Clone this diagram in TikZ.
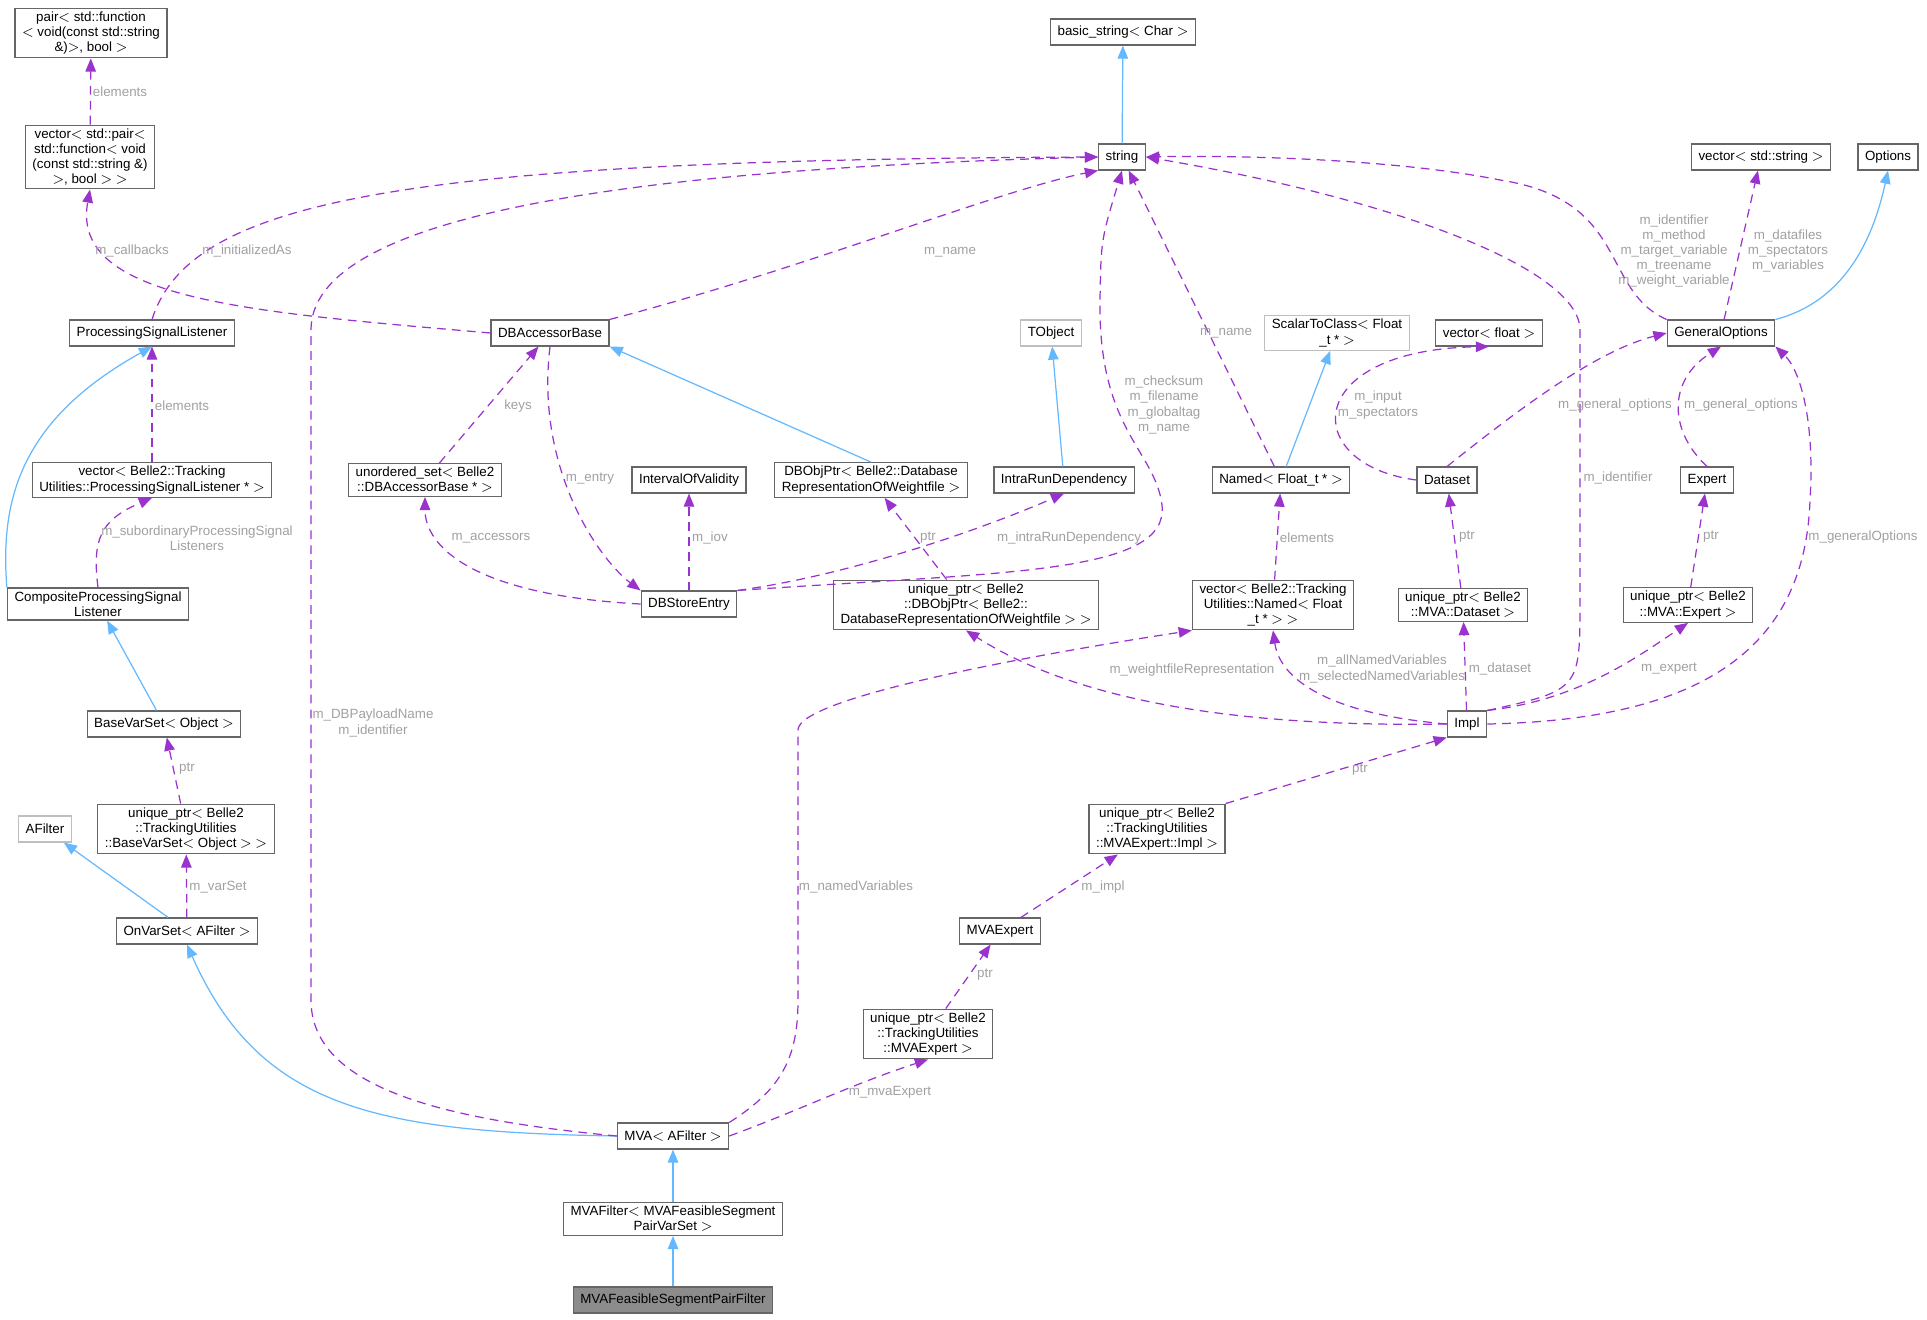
\documentclass[tikz,border=0pt]{standalone}
\usepackage{fontspec}
\setmainfont{Liberation Sans}
\usetikzlibrary{arrows.meta, positioning, calc, shapes}
\definecolor{inhblue}{HTML}{63B8FF}
\definecolor{usepurple}{HTML}{9A32CD}
\definecolor{lblgray}{HTML}{A0A0A0}
\tikzset{
  cls/.style={draw=black!60, fill=white, line width=0.7pt, align=center, inner xsep=4pt, inner ysep=2pt, minimum height=14.7pt},
  extcls/.style={cls, draw=black!25},
  inh/.style={draw=inhblue, line width=0.7pt, -{Triangle[length=7.5pt,width=6pt]}},
  usr/.style={draw=usepurple, line width=0.7pt, dash pattern=on 5pt off 3.5pt, -{Triangle[length=7.5pt,width=6pt]}},
  lbl/.style={text=lblgray, align=center, inner sep=1pt}
}
\begin{document}
\begin{tikzpicture}[x=0.02cm, y=-0.02cm, font=\fontsize{7.6}{8.6}\selectfont]
        \useasboundingbox (0,0) rectangle (1927,1319);
        % classes
        \node[cls] (pair) at (91,33) {pair$<$ std::function\\$<$ void(const std::string\\\&)$>$, bool $>$};
        \node[cls] (vecpair) at (90,157) {vector$<$ std::pair$<$\\std::function$<$ void\\(const std::string \&)\\$>$, bool $>$ $>$};
        \node[cls] (bstr) at (1123,32) {basic\_string$<$ Char $>$};
        \node[cls] (str) at (1122,157) {string};
        \node[cls] (vecstr) at (1761,157) {vector$<$ std::string $>$};
        \node[cls] (opts) at (1888,157) {Options};
        \node[cls] (psl) at (152,333) {ProcessingSignalListener};
        \node[cls] (dbab) at (550,333) {DBAccessorBase};
        \node[extcls] (tobj) at (1051,333) {TObject};
        \node[extcls] (s2c) at (1337,333) {ScalarToClass$<$ Float\\\_t * $>$};
        \node[cls] (vecflt) at (1489,333) {vector$<$ float $>$};
        \node[cls] (genopt) at (1721,333) {GeneralOptions};
        \node[cls] (vecpsl) at (152,480) {vector$<$ Belle2::Tracking\\Utilities::ProcessingSignalListener * $>$};
        \node[cls] (uset) at (425,480) {unordered\_set$<$ Belle2\\::DBAccessorBase * $>$};
        \node[cls] (iov) at (689,480) {IntervalOfValidity};
        \node[cls] (dbobj) at (871,480) {DBObjPtr$<$ Belle2::Database\\RepresentationOfWeightfile $>$};
        \node[cls] (intra) at (1064,480) {IntraRunDependency};
        \node[cls] (named) at (1281,480) {Named$<$ Float\_t * $>$};
        \node[cls] (dataset) at (1447,480) {Dataset};
        \node[cls] (expert) at (1707,480) {Expert};
        \node[cls] (comp) at (98,604) {CompositeProcessingSignal\\Listener};
        \node[cls] (dbstore) at (689,604) {DBStoreEntry};
        \node[cls] (udbobj) at (966,605) {unique\_ptr$<$ Belle2\\::DBObjPtr$<$ Belle2::\\DatabaseRepresentationOfWeightfile $>$ $>$};
        \node[cls] (vecnamed) at (1273,605) {vector$<$ Belle2::Tracking\\Utilities::Named$<$ Float\\\_t * $>$ $>$};
        \node[cls] (udataset) at (1463,605) {unique\_ptr$<$ Belle2\\::MVA::Dataset $>$};
        \node[cls] (uexpert) at (1688,605) {unique\_ptr$<$ Belle2\\::MVA::Expert $>$};
        \node[cls] (impl) at (1467,724) {Impl};
        \node[cls] (bvs) at (164,724) {BaseVarSet$<$ Object $>$};
        \node[extcls] (afilter) at (45,829) {AFilter};
        \node[cls] (ubvs) at (186,829) {unique\_ptr$<$ Belle2\\::TrackingUtilities\\::BaseVarSet$<$ Object $>$ $>$};
        \node[cls] (uimpl) at (1157,829) {unique\_ptr$<$ Belle2\\::TrackingUtilities\\::MVAExpert::Impl $>$};
        \node[cls] (onvs) at (187,931) {OnVarSet$<$ AFilter $>$};
        \node[cls] (mvaexp) at (1000,931) {MVAExpert};
        \node[cls] (umvaexp) at (928,1034) {unique\_ptr$<$ Belle2\\::TrackingUtilities\\::MVAExpert $>$};
        \node[cls] (mva) at (673,1136) {MVA$<$ AFilter $>$};
        \node[cls] (mvaf) at (673,1219) {MVAFilter$<$ MVAFeasibleSegment\\PairVarSet $>$};
        \node[cls, fill=black!45] (feas) at (673,1300) {MVAFeasibleSegmentPairFilter};
        % inheritance
        \draw[inh] (str) -- (bstr);
        \draw[inh] (feas) -- (mvaf);
        \draw[inh] (mvaf) -- (mva);
        \draw[inh] (mva.west) .. controls (380,1132) and (260,1110) .. (onvs.south);
        \draw[inh] (onvs) -- (afilter);
        \draw[inh] (bvs) -- (comp);
        \draw[inh] (comp.north west) .. controls (0,500) and (20,420) .. (psl.south);
        \draw[inh] (dbobj.north) -- (dbab.south east);
        \draw[inh] (intra) -- (tobj);
        \draw[inh] (named) -- (s2c);
        \draw[inh] (genopt.north east) .. controls (1850,300) and (1875,230) .. (opts.south);
        % usage
        \draw[usr] (vecpair) -- (pair) node[lbl, midway, right] {elements};
        \draw[usr] (dbab.west) .. controls (250,312) and (70,300) .. (vecpair.south);
        \draw[usr] (psl.north) .. controls (190,200) and (400,160) .. (str.west);
        \draw[usr] (dbab.north east) .. controls (800,270) and (1000,190) .. (str.south west);
        \draw[usr] (vecpsl) -- (psl);
        \draw[usr] (comp.north) .. controls (92,540) and (100,520) .. (vecpsl.south);
        \draw[usr] (uset) -- (dbab);
        \draw[usr] (dbab.south) .. controls (535,470) and (600,560) .. (dbstore.north west);
        \draw[usr] (dbstore.west) .. controls (470,595) and (425,545) .. (uset.south);
        \draw[usr] (dbstore) -- (iov);
        \draw[usr] (dbstore.north east) .. controls (850,575) and (980,530) .. (intra.south);
        \draw[usr] (dbstore.north east) .. controls (1000,572) and (1170,575) .. (1162,505) .. controls (1155,450) and (1098,430) .. (1100,300) .. controls (1101,240) .. (str.south);
        \draw[usr] (udbobj) -- (dbobj);
        \draw[usr] (named) -- (str);
        \draw[usr] (vecnamed) -- (named);
        \draw[usr] (dataset.west) .. controls (1300,465) and (1300,350) .. (vecflt.south);
        \draw[usr] (dataset.north) .. controls (1530,400) and (1600,350) .. (genopt.west);
        \draw[usr] (expert.north) .. controls (1668,430) and (1668,380) .. (genopt.south);
        \draw[usr] (genopt.north west) .. controls (1600,290) and (1630,200) .. (1500,180) .. controls (1400,160) and (1250,155) .. (str.east);
        \draw[usr] (genopt) -- (vecstr);
        \draw[usr] (udataset) -- (dataset);
        \draw[usr] (uexpert) -- (expert);
        \draw[usr] (impl.north east) .. controls (1580,690) .. (1580,600) -- (1580,330) .. controls (1580,270) and (1400,200) .. (str.east);
        \draw[usr] (impl.east) .. controls (1700,720) and (1805,650) .. (1810,500) .. controls (1815,420) and (1800,370) .. (genopt.south east);
        \draw[usr] (impl) -- (udataset);
        \draw[usr] (impl.north east) .. controls (1580,700) and (1640,655) .. (uexpert.south);
        \draw[usr] (impl.west) .. controls (1330,714) and (1280,680) .. (vecnamed.south);
        \draw[usr] (impl.west) .. controls (1200,728) and (1060,690) .. (udbobj.south);
        \draw[usr] (uimpl.north east) -- (impl.south west);
        \draw[usr] (mvaexp) -- (uimpl);
        \draw[usr] (umvaexp) -- (mvaexp);
        \draw[usr] (mva.east) .. controls (800,1110) and (850,1085) .. (umvaexp.south);
        \draw[usr] (mva.north east) .. controls (780,1090) and (798,1060) .. (798,1000) -- (798,730) .. controls (798,700) and (1000,660) .. (vecnamed.south west);
        \draw[usr] (mva.west) .. controls (450,1120) and (311,1090) .. (311,1000) -- (311,330) .. controls (311,220) and (600,170) .. (str.west);
        \draw[usr] (ubvs) -- (bvs);
        \draw[usr] (onvs) -- (ubvs);
        % labels
        \node[lbl] (l_cb) at (132,251) {m\_callbacks};
        \node[lbl] (l_ia) at (247,251) {m\_initializedAs};
        \node[lbl] (l_el1) at (182,406) {elements};
        \node[lbl] (l_sub) at (197,538) {m\_subordinaryProcessingSignal\\Listeners};
        \node[lbl] (l_keys) at (518,406) {keys};
        \node[lbl] (l_entry) at (590,479) {m\_entry};
        \node[lbl] (l_acc) at (491,538) {m\_accessors};
        \node[lbl] (l_iov) at (710,538) {m\_iov};
        \node[lbl] (l_name1) at (950,252) {m\_name};
        \node[lbl] (l_chk) at (1164,405) {m\_checksum\\m\_filename\\m\_globaltag\\m\_name};
        \node[lbl] (l_name2) at (1226,333) {m\_name};
        \node[lbl] (l_ptr1) at (928,538) {ptr};
        \node[lbl] (l_intra) at (1069,538) {m\_intraRunDependency};
        \node[lbl] (l_el2) at (1307,538) {elements};
        \node[lbl] (l_inp) at (1378,405) {m\_input\\m\_spectators};
        \node[lbl] (l_ident) at (1674,251) {m\_identifier\\m\_method\\m\_target\_variable\\m\_treename\\m\_weight\_variable};
        \node[lbl] (l_files) at (1788,251) {m\_datafiles\\m\_spectators\\m\_variables};
        \node[lbl] (l_go1) at (1615,405) {m\_general\_options};
        \node[lbl] (l_go2) at (1741,405) {m\_general\_options};
        \node[lbl] (l_id2) at (1618,478) {m\_identifier};
        \node[lbl] (l_gopt) at (1863,537) {m\_generalOptions};
        \node[lbl] (l_ptr2) at (1467,537) {ptr};
        \node[lbl] (l_ptr3) at (1711,537) {ptr};
        \node[lbl] (l_all) at (1382,669) {m\_allNamedVariables\\m\_selectedNamedVariables};
        \node[lbl] (l_ds) at (1500,669) {m\_dataset};
        \node[lbl] (l_ex) at (1669,669) {m\_expert};
        \node[lbl] (l_wf) at (1192,670) {m\_weightfileRepresentation};
        \node[lbl] (l_ptr4) at (1360,770) {ptr};
        \node[lbl] (l_db) at (373,723) {m\_DBPayloadName\\m\_identifier};
        \node[lbl] (l_ptr5) at (187,769) {ptr};
        \node[lbl] (l_vs) at (218,887) {m\_varSet};
        \node[lbl] (l_nv) at (856,887) {m\_namedVariables};
        \node[lbl] (l_impl) at (1103,887) {m\_impl};
        \node[lbl] (l_ptr6) at (985,975) {ptr};
        \node[lbl] (l_mvae) at (890,1092) {m\_mvaExpert};
\end{tikzpicture}
\end{document}
